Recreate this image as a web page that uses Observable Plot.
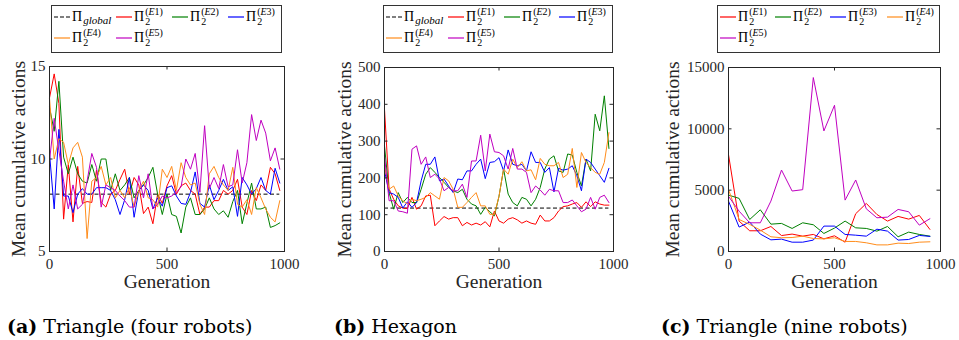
<!DOCTYPE html>
<html>
<head>
<meta charset="utf-8">
<script src="https://cdn.jsdelivr.net/npm/d3@7"></script>
<script src="https://cdn.jsdelivr.net/npm/@observablehq/plot@0.6"></script>
<style>
html,body{margin:0;padding:0;background:#fff;}
body{position:relative;width:959px;height:340px;overflow:hidden;font-family:"Liberation Serif","Times New Roman","DejaVu Serif",serif;}
.chart{position:absolute;top:56px;}
.legend{position:absolute;top:5px;height:48px;box-sizing:border-box;border:1px solid #333;background:#fff;font-family:"Liberation Serif","Times New Roman","DejaVu Serif",serif;}
.item{position:absolute;height:20px;display:flex;align-items:center;white-space:nowrap;color:#000;}
.swatch{display:block;margin-right:2px;}
.pi{font-size:14px;line-height:14px;}
.gl{font-style:italic;font-size:11px;position:relative;top:3px;margin-left:1px;}
.ss{display:inline-flex;flex-direction:column;font-size:10px;line-height:10px;margin-left:1px;}
.caption{position:absolute;top:316px;font-family:"DejaVu Serif",serif;font-size:19px;line-height:20px;color:#000;white-space:nowrap;}
</style>
</head>
<body>
<script>
// ---------- data ----------
const gens20 = [0,20,40,60,80,100,120,140,160,180,200,220,240,260,280,300,320,340,360,380,400,420,440,460,480,500,520,540,560,580,600,620,640,660,680,700,720,740,760,780,800,820,840,860,880,900,920,940,960,980];
const gens50 = [0,50,100,150,200,250,300,350,400,450,500,550,600,650,700,750,800,850,900,950];

// (a) Triangle (four robots)
const triGlobal = 8.1;
const triE1 = [13.3,14.6,13.0,6.75,9.7,6.6,9.6,7.6,7.7,7.65,9.4,7.65,7.4,8.1,8.3,8.9,9.45,8.1,9.0,8.6,7.05,7.4,6.5,8.1,7.6,8.55,9.1,8.1,8.55,8.7,8.3,8.1,7.0,7.4,7.4,7.75,7.75,8.3,8.1,8.3,8.9,7.4,7.0,8.3,7.75,8.6,8.3,9.55,9.2,8.3];
const triE2 = [12.8,11.5,14.2,10.1,9.2,10.1,9.2,8.8,8.7,9.7,8.8,10.0,10.0,8.3,9.2,8.3,8.6,9.0,7.9,8.3,8.6,9.0,9.55,8.1,7.0,8.1,7.0,6.9,6.0,7.4,7.9,7.0,7.0,7.3,7.9,7.3,7.0,7.2,6.85,7.7,8.3,6.5,7.6,8.7,7.3,7.3,7.4,6.3,6.4,6.55];
const triE3 = [10.3,7.3,11.6,8.0,8.0,7.1,8.1,8.4,8.1,8.1,8.45,8.45,8.45,8.3,7.8,7.0,7.8,9.0,6.85,8.3,8.6,8.3,7.3,7.9,7.45,8.45,8.55,8.0,7.6,7.55,8.2,9.3,7.6,7.4,8.6,7.8,8.3,8.9,8.3,8.5,6.9,9.0,8.6,8.1,8.4,9.0,8.3,8.1,9.5,8.7];
const triE4 = [13.3,10.0,11.1,10.9,9.7,10.6,10.9,10.1,5.7,8.8,9.0,9.6,8.6,9.0,7.9,8.3,7.9,8.45,7.4,8.3,8.8,7.9,7.8,7.4,9.45,9.0,9.6,8.3,9.8,9.0,8.6,8.7,7.55,7.0,9.2,9.6,9.0,8.6,8.3,9.55,7.55,7.4,7.8,7.0,8.45,7.9,7.3,6.85,6.6,7.75];
const triE5 = [9.9,12.2,10.45,8.8,7.3,8.6,7.3,7.55,8.8,10.3,9.55,7.4,8.6,8.45,8.3,8.0,7.75,7.4,7.4,9.1,7.9,9.2,7.3,7.55,8.0,7.9,8.0,8.2,8.5,10.0,9.45,10.3,8.2,11.8,8.4,9.0,8.4,9.7,8.5,8.6,10.5,8.7,9.8,12.4,11.0,12.1,11.4,9.9,10.6,9.45];

// (b) Hexagon
const hexGlobal = 118;
const hexE1 = [387,170,142,124,118,117,147,115,124,151,153,70,83,95,88,92,92,70,79,72,77,72,81,67,110,83,77,88,92,86,77,83,77,74,99,83,83,92,110,122,124,129,133,120,135,122,135,129,126,126];
const hexE2 = [287,160,115,160,133,147,133,133,169,210,228,215,201,188,174,165,160,169,142,129,124,101,120,108,97,150,224,156,133,124,147,142,124,142,174,224,251,260,219,215,265,262,215,178,251,219,373,328,423,280];
const hexE3 = [220,160,156,147,118,135,120,133,192,237,237,257,192,197,178,160,197,195,219,219,237,251,198,242,244,255,219,276,237,233,237,219,271,242,242,215,228,162,226,221,224,233,206,165,251,242,224,206,188,226];
const hexE4 = [233,169,178,151,138,129,142,138,142,147,160,151,142,201,192,169,120,120,133,147,160,124,124,101,101,150,224,210,251,228,244,219,222,195,253,237,233,233,242,201,210,280,174,269,242,228,215,210,242,323];
const hexE5 = [260,138,138,110,108,104,278,287,237,257,201,210,197,165,174,165,165,183,147,246,246,316,219,319,271,269,260,224,280,224,224,215,160,178,167,153,169,165,165,133,133,140,124,108,115,147,115,147,153,133];

// (c) Triangle (nine robots)
const nineE1 = [7900,2480,1690,1690,2040,1300,1420,1250,1390,1030,1280,760,3080,3920,3020,2480,2860,2640,2940,1800];
const nineE2 = [4600,4330,2610,3400,2230,2290,1880,2340,2180,1470,1910,2480,1930,1880,1660,2040,1200,1580,1390,1250];
const nineE3 = [4110,1990,2400,1420,950,1010,760,760,930,2070,2070,1390,1330,1250,1820,1660,930,980,1310,1230];
const nineE4 = [5060,2610,2210,1740,1200,1120,1140,1250,1060,1030,1120,820,820,710,540,540,680,650,760,790];
const nineE5 = [4500,3290,2340,2340,4110,6640,4930,5040,14180,9830,11920,4190,5830,3480,2750,2800,3430,3240,2150,2670];

const seriesKeys = ["E1","E2","E3","E4","E5"];
const seriesColors = ["#ff0000","#008000","#0000ff","#ff8c1a","#c000c0"];
const xTicks = [0,500,1000];
const triTicks = [5,10,15];
const hexTicks = [0,100,200,300,400,500];
const nineTicks = [0,5000,10000,15000];
const xLabel = "Generation";
const yLabel = "Mean cumulative actions";
const captions = [["(a)"," Triangle (four robots)"],["(b)"," Hexagon"],["(c)"," Triangle (nine robots)"]];

// ---------- drawing ----------
const ink = "#262626";
const serif = '"Liberation Serif", "Times New Roman", "DejaVu Serif", serif';
function panel(cfg){
  const {xs, series, globalVal, yDomain, yTicks, left, width, height, ml, mr, mt, mb, yLabelOffset} = cfg;
  const pw = width - ml - mr, ph = height - mt - mb;
  const marks = [];
  if (globalVal != null) marks.push(Plot.ruleY([globalVal], {x1: xs[0], x2: xs[xs.length-1], stroke:"#000", strokeWidth:1, strokeDasharray:"4,2.5"}));
  series.forEach((vals,i)=>{
    marks.push(Plot.line(xs.map((g,j)=>({g, v: vals[j]})), {x:"g", y:"v", stroke: seriesColors[i], strokeWidth:1}));
  });
  marks.push(
    Plot.tickY(yTicks, {y: d=>d, insetRight: pw-3.5, stroke: ink}),
    Plot.tickY(yTicks, {y: d=>d, insetLeft: pw-3.5, stroke: ink}),
    Plot.tickX(xTicks, {x: d=>d, insetTop: ph-3.5, stroke: ink}),
    Plot.tickX(xTicks, {x: d=>d, insetBottom: ph-3.5, stroke: ink}),
    Plot.axisX({ticks: xTicks, tickSize: 0, tickPadding: 6.5, label: null, tickFormat: d=>String(d), fontSize: 15}),
    Plot.axisX({ticks: [], label: xLabel, labelAnchor: "center", labelOffset: 36, labelArrow: "none", fontSize: 19.5}),
    Plot.axisY({ticks: yTicks, tickSize: 0, tickPadding: 4, label: null, tickFormat: d=>String(d), fontSize: 15}),
    Plot.axisY({ticks: [], label: yLabel, labelAnchor: "center", labelOffset: yLabelOffset, labelArrow: "none", fontSize: 19.5}),
    Plot.frame({stroke: ink})
  );
  const out = Plot.plot({
    width, height, marginLeft: ml, marginRight: mr, marginTop: mt, marginBottom: mb,
    x: {domain: [0,1000]},
    y: {domain: yDomain},
    style: {fontSize: "15px", color: ink, background: "none", overflow: "visible"},
    marks
  });
  const svg = out.tagName.toLowerCase() === "svg" ? out : out.querySelector("svg");
  svg.setAttribute("font-family", serif);
  svg.style.fontFamily = serif;
  svg.querySelectorAll("g, text, tspan").forEach(el => { if (el.hasAttribute("font-family")) el.setAttribute("font-family", serif); });
  svg.querySelectorAll("text").forEach(t => { t.style.fontFamily = serif; });
  out.classList.add("chart");
  out.style.left = left + "px";
  out.style.position = "absolute";
  out.style.top = "56px";
  out.style.margin = "0";
  document.body.appendChild(out);
}

panel({xs: gens20, series: [triE1,triE2,triE3,triE4,triE5], globalVal: triGlobal, yDomain: [5,15], yTicks: triTicks,
  left: 0, width: 300, height: 250, ml: 49, mr: 16, mt: 10, mb: 55, yLabelOffset: 38});
panel({xs: gens20, series: [hexE1,hexE2,hexE3,hexE4,hexE5], globalVal: hexGlobal, yDomain: [0,500], yTicks: hexTicks,
  left: 320, width: 310, height: 250, ml: 64, mr: 17, mt: 11, mb: 55, yLabelOffset: 47});
panel({xs: gens50, series: [nineE1,nineE2,nineE3,nineE4,nineE5], globalVal: null, yDomain: [0,15000], yTicks: nineTicks,
  left: 640, width: 315, height: 250, ml: 88, mr: 15, mt: 11, mb: 55, yLabelOffset: 63});

// ---------- legends ----------
const NS = "http://www.w3.org/2000/svg";
function swatch(color, dashed){
  const s = document.createElementNS(NS, "svg");
  s.setAttribute("width", "16"); s.setAttribute("height", "4");
  s.setAttribute("class", "swatch");
  const l = document.createElementNS(NS, "line");
  l.setAttribute("x1", "0"); l.setAttribute("x2", "16");
  l.setAttribute("y1", "2"); l.setAttribute("y2", "2");
  l.setAttribute("stroke", color); l.setAttribute("stroke-width", "1.2");
  if (dashed) l.setAttribute("stroke-dasharray", "4,2");
  s.appendChild(l);
  return s;
}
function legend(left, width, withGlobal, cols){
  const box = document.createElement("div");
  box.className = "legend";
  box.style.left = left + "px";
  box.style.width = width + "px";
  const entries = [];
  if (withGlobal) entries.push({color:"#000", dashed:true, key:null});
  seriesKeys.forEach((k,i)=>entries.push({color: seriesColors[i], dashed:false, key:k}));
  entries.forEach((e,i)=>{
    const it = document.createElement("div");
    it.className = "item";
    it.style.left = cols[i%4] + "px";
    it.style.top = (i<4 ? 1 : 22) + "px";
    it.appendChild(swatch(e.color, e.dashed));
    const pi = document.createElement("span");
    pi.className = "pi";
    pi.textContent = "Π";
    it.appendChild(pi);
    if (e.key === null){
      const g = document.createElement("span");
      g.className = "gl";
      g.textContent = "global";
      it.appendChild(g);
    } else {
      const ss = document.createElement("span");
      ss.className = "ss";
      ss.innerHTML = '<span>(<i>' + e.key[0] + '</i>' + e.key.slice(1) + ')</span><span>2</span>';
      it.appendChild(ss);
    }
    box.appendChild(it);
  });
  document.body.appendChild(box);
}
legend(51, 231, true, [2,64,120,176]);
legend(383, 230, true, [2,64,120,175]);
legend(717, 223, false, [2,57,112,169]);

// ---------- captions ----------
[7,334,661].forEach((x,i)=>{
  const c = document.createElement("div");
  c.className = "caption";
  c.style.left = x + "px";
  c.innerHTML = "<b>" + captions[i][0] + "</b>" + captions[i][1];
  document.body.appendChild(c);
});
</script>
</body>
</html>
